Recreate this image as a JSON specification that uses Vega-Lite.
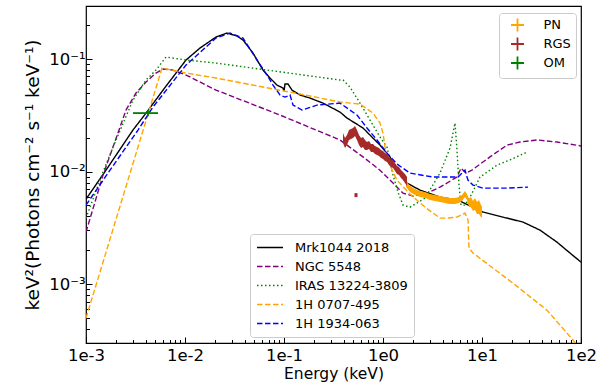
{
  "$schema": "https://vega.github.io/schema/vega-lite/v6.json",
  "width": 495,
  "height": 337,
  "autosize": {"type": "none"},
  "padding": {"left": 86, "top": 6, "right": 30, "bottom": 46},
  "background": "white",
  "config": {
    "font": "DejaVu Sans",
    "view": {"stroke": "black", "strokeWidth": 1.2},
    "axis": {"domain": false, "grid": false, "tickColor": "black", "tickWidth": 1, "labelColor": "black", "titleColor": "black", "labelFont": "DejaVu Sans", "titleFont": "DejaVu Sans", "labelFontSize": 16.5, "titleFontSize": 15.5, "titleFontWeight": "normal", "labelOverlap": false, "labelFlush": false},
    "legend": {"labelFont": "DejaVu Sans", "labelFontSize": 13, "labelColor": "black"}
  },
  "datasets": {
    "models": [
      {"model": "Mrk1044 2018", "E": 0.001, "F": 0.00569},
      {"model": "Mrk1044 2018", "E": 0.001592, "F": 0.0103},
      {"model": "Mrk1044 2018", "E": 0.00298, "F": 0.0234},
      {"model": "Mrk1044 2018", "E": 0.00404, "F": 0.0331},
      {"model": "Mrk1044 2018", "E": 0.00643, "F": 0.0575},
      {"model": "Mrk1044 2018", "E": 0.01024, "F": 0.098},
      {"model": "Mrk1044 2018", "E": 0.01417, "F": 0.1252},
      {"model": "Mrk1044 2018", "E": 0.02056, "F": 0.1569},
      {"model": "Mrk1044 2018", "E": 0.02655, "F": 0.1702},
      {"model": "Mrk1044 2018", "E": 0.03352, "F": 0.1601},
      {"model": "Mrk1044 2018", "E": 0.03854, "F": 0.1475},
      {"model": "Mrk1044 2018", "E": 0.04862, "F": 0.1131},
      {"model": "Mrk1044 2018", "E": 0.06136, "F": 0.0798},
      {"model": "Mrk1044 2018", "E": 0.07221, "F": 0.0678},
      {"model": "Mrk1044 2018", "E": 0.08499, "F": 0.0587},
      {"model": "Mrk1044 2018", "E": 0.0977, "F": 0.0552},
      {"model": "Mrk1044 2018", "E": 0.1, "F": 0.0519},
      {"model": "Mrk1044 2018", "E": 0.1023, "F": 0.06},
      {"model": "Mrk1044 2018", "E": 0.1098, "F": 0.06},
      {"model": "Mrk1044 2018", "E": 0.1204, "F": 0.053},
      {"model": "Mrk1044 2018", "E": 0.1451, "F": 0.0479},
      {"model": "Mrk1044 2018", "E": 0.1831, "F": 0.045},
      {"model": "Mrk1044 2018", "E": 0.2477, "F": 0.0406},
      {"model": "Mrk1044 2018", "E": 0.3679, "F": 0.0338},
      {"model": "Mrk1044 2018", "E": 0.4329, "F": 0.0299},
      {"model": "Mrk1044 2018", "E": 0.6281, "F": 0.0244},
      {"model": "Mrk1044 2018", "E": 0.7391, "F": 0.0211},
      {"model": "Mrk1044 2018", "E": 0.9326, "F": 0.0172},
      {"model": "Mrk1044 2018", "E": 1.177, "F": 0.0135},
      {"model": "Mrk1044 2018", "E": 1.385, "F": 0.0103},
      {"model": "Mrk1044 2018", "E": 1.748, "F": 0.0079},
      {"model": "Mrk1044 2018", "E": 2.364, "F": 0.00685},
      {"model": "Mrk1044 2018", "E": 3.765, "F": 0.00593},
      {"model": "Mrk1044 2018", "E": 5.722, "F": 0.00558},
      {"model": "Mrk1044 2018", "E": 10.23, "F": 0.00437},
      {"model": "Mrk1044 2018", "E": 16.29, "F": 0.00394},
      {"model": "Mrk1044 2018", "E": 25.95, "F": 0.00356},
      {"model": "Mrk1044 2018", "E": 38.54, "F": 0.00302},
      {"model": "Mrk1044 2018", "E": 57.24, "F": 0.00236},
      {"model": "Mrk1044 2018", "E": 77.43, "F": 0.00189},
      {"model": "Mrk1044 2018", "E": 100, "F": 0.00157},

      {"model": "NGC 5548", "E": 0.001, "F": 0.0029},
      {"model": "NGC 5548", "E": 0.001485, "F": 0.00931},
      {"model": "NGC 5548", "E": 0.001874, "F": 0.0165},
      {"model": "NGC 5548", "E": 0.002535, "F": 0.0352},
      {"model": "NGC 5548", "E": 0.003199, "F": 0.0499},
      {"model": "NGC 5548", "E": 0.004037, "F": 0.0625},
      {"model": "NGC 5548", "E": 0.005093, "F": 0.0751},
      {"model": "NGC 5548", "E": 0.005995, "F": 0.0815},
      {"model": "NGC 5548", "E": 0.007565, "F": 0.0798},
      {"model": "NGC 5548", "E": 0.01024, "F": 0.0721},
      {"model": "NGC 5548", "E": 0.02056, "F": 0.053},
      {"model": "NGC 5548", "E": 0.0911, "F": 0.0318},
      {"model": "NGC 5548", "E": 0.3679, "F": 0.0191},
      {"model": "NGC 5548", "E": 0.6281, "F": 0.0135},
      {"model": "NGC 5548", "E": 0.9326, "F": 0.0103},
      {"model": "NGC 5548", "E": 1.262, "F": 0.0079},
      {"model": "NGC 5548", "E": 1.592, "F": 0.00644},
      {"model": "NGC 5548", "E": 2.009, "F": 0.00606},
      {"model": "NGC 5548", "E": 2.783, "F": 0.00644},
      {"model": "NGC 5548", "E": 3.765, "F": 0.00728},
      {"model": "NGC 5548", "E": 5.59, "F": 0.00894},
      {"model": "NGC 5548", "E": 6.137, "F": 0.0107},
      {"model": "NGC 5548", "E": 6.893, "F": 0.0097},
      {"model": "NGC 5548", "E": 7.9, "F": 0.0103},
      {"model": "NGC 5548", "E": 12.04, "F": 0.0135},
      {"model": "NGC 5548", "E": 17.88, "F": 0.0172},
      {"model": "NGC 5548", "E": 24.2, "F": 0.0183},
      {"model": "NGC 5548", "E": 35.94, "F": 0.0191},
      {"model": "NGC 5548", "E": 57.24, "F": 0.0183},
      {"model": "NGC 5548", "E": 100, "F": 0.0169},

      {"model": "IRAS 13224-3809", "E": 0.001, "F": 0.00386},
      {"model": "IRAS 13224-3809", "E": 0.001485, "F": 0.0099},
      {"model": "IRAS 13224-3809", "E": 0.001874, "F": 0.0165},
      {"model": "IRAS 13224-3809", "E": 0.002983, "F": 0.0432},
      {"model": "IRAS 13224-3809", "E": 0.004037, "F": 0.0651},
      {"model": "IRAS 13224-3809", "E": 0.005093, "F": 0.0798},
      {"model": "IRAS 13224-3809", "E": 0.006428, "F": 0.1042},
      {"model": "IRAS 13224-3809", "E": 0.01024, "F": 0.098},
      {"model": "IRAS 13224-3809", "E": 0.02056, "F": 0.0921},
      {"model": "IRAS 13224-3809", "E": 0.3679, "F": 0.0651},
      {"model": "IRAS 13224-3809", "E": 0.3945, "F": 0.0651},
      {"model": "IRAS 13224-3809", "E": 0.4642, "F": 0.0564},
      {"model": "IRAS 13224-3809", "E": 0.5857, "F": 0.0406},
      {"model": "IRAS 13224-3809", "E": 0.7391, "F": 0.0287},
      {"model": "IRAS 13224-3809", "E": 0.9326, "F": 0.0203},
      {"model": "IRAS 13224-3809", "E": 1.0975, "F": 0.0165},
      {"model": "IRAS 13224-3809", "E": 1.262, "F": 0.00931},
      {"model": "IRAS 13224-3809", "E": 1.418, "F": 0.00657},
      {"model": "IRAS 13224-3809", "E": 1.592, "F": 0.00504},
      {"model": "IRAS 13224-3809", "E": 1.874, "F": 0.00483},
      {"model": "IRAS 13224-3809", "E": 2.656, "F": 0.00581},
      {"model": "IRAS 13224-3809", "E": 3.765, "F": 0.0097},
      {"model": "IRAS 13224-3809", "E": 4.752, "F": 0.0162},
      {"model": "IRAS 13224-3809", "E": 5.337, "F": 0.027},
      {"model": "IRAS 13224-3809", "E": 5.59, "F": 0.0155},
      {"model": "IRAS 13224-3809", "E": 5.857, "F": 0.00759},
      {"model": "IRAS 13224-3809", "E": 6.137, "F": 0.00504},
      {"model": "IRAS 13224-3809", "E": 6.734, "F": 0.00504},
      {"model": "IRAS 13224-3809", "E": 7.565, "F": 0.00593},
      {"model": "IRAS 13224-3809", "E": 9.545, "F": 0.00894},
      {"model": "IRAS 13224-3809", "E": 14.17, "F": 0.0114},
      {"model": "IRAS 13224-3809", "E": 19.18, "F": 0.0127},
      {"model": "IRAS 13224-3809", "E": 28.48, "F": 0.0149},

      {"model": "1H 0707-495", "E": 0.001, "F": 0.000499},
      {"model": "1H 0707-495", "E": 0.005857, "F": 0.0832},
      {"model": "1H 0707-495", "E": 0.01024, "F": 0.0751},
      {"model": "1H 0707-495", "E": 0.02056, "F": 0.0678},
      {"model": "1H 0707-495", "E": 0.1451, "F": 0.0489},
      {"model": "1H 0707-495", "E": 0.3679, "F": 0.0415},
      {"model": "1H 0707-495", "E": 0.5857, "F": 0.0398},
      {"model": "1H 0707-495", "E": 0.7925, "F": 0.0331},
      {"model": "1H 0707-495", "E": 0.9326, "F": 0.027},
      {"model": "1H 0707-495", "E": 1.0, "F": 0.022},
      {"model": "1H 0707-495", "E": 1.0476, "F": 0.0165},
      {"model": "1H 0707-495", "E": 1.1233, "F": 0.0127},
      {"model": "1H 0707-495", "E": 1.262, "F": 0.0099},
      {"model": "1H 0707-495", "E": 1.385, "F": 0.0084},
      {"model": "1H 0707-495", "E": 1.874, "F": 0.00631},
      {"model": "1H 0707-495", "E": 2.656, "F": 0.00483},
      {"model": "1H 0707-495", "E": 3.765, "F": 0.00386},
      {"model": "1H 0707-495", "E": 4.43, "F": 0.00386},
      {"model": "1H 0707-495", "E": 5.59, "F": 0.00394},
      {"model": "1H 0707-495", "E": 6.734, "F": 0.00428},
      {"model": "1H 0707-495", "E": 7.221, "F": 0.00371},
      {"model": "1H 0707-495", "E": 7.391, "F": 0.00209},
      {"model": "1H 0707-495", "E": 8.111, "F": 0.00189},
      {"model": "1H 0707-495", "E": 20.56, "F": 0.00102},
      {"model": "1H 0707-495", "E": 45.36, "F": 0.000587},
      {"model": "1H 0707-495", "E": 100, "F": 0.000264},

      {"model": "1H 1934-063", "E": 0.001, "F": 0.00504},
      {"model": "1H 1934-063", "E": 0.001748, "F": 0.0103},
      {"model": "1H 1934-063", "E": 0.003352, "F": 0.0234},
      {"model": "1H 1934-063", "E": 0.00475, "F": 0.0375},
      {"model": "1H 1934-063", "E": 0.01024, "F": 0.0884},
      {"model": "1H 1934-063", "E": 0.02056, "F": 0.1537},
      {"model": "1H 1934-063", "E": 0.02847, "F": 0.1702},
      {"model": "1H 1934-063", "E": 0.03854, "F": 0.1537},
      {"model": "1H 1934-063", "E": 0.05337, "F": 0.098},
      {"model": "1H 1934-063", "E": 0.06734, "F": 0.0721},
      {"model": "1H 1934-063", "E": 0.07743, "F": 0.0587},
      {"model": "1H 1934-063", "E": 0.09112, "F": 0.0479},
      {"model": "1H 1934-063", "E": 0.1023, "F": 0.0459},
      {"model": "1H 1934-063", "E": 0.115, "F": 0.0479},
      {"model": "1H 1934-063", "E": 0.1233, "F": 0.039},
      {"model": "1H 1934-063", "E": 0.152, "F": 0.0352},
      {"model": "1H 1934-063", "E": 0.2154, "F": 0.039},
      {"model": "1H 1934-063", "E": 0.3679, "F": 0.0406},
      {"model": "1H 1934-063", "E": 0.5462, "F": 0.0318},
      {"model": "1H 1934-063", "E": 0.6893, "F": 0.0244},
      {"model": "1H 1934-063", "E": 0.8697, "F": 0.0191},
      {"model": "1H 1934-063", "E": 1.0975, "F": 0.0146},
      {"model": "1H 1934-063", "E": 1.385, "F": 0.01166},
      {"model": "1H 1934-063", "E": 1.874, "F": 0.0097},
      {"model": "1H 1934-063", "E": 3.2, "F": 0.00894},
      {"model": "1H 1934-063", "E": 5.722, "F": 0.00894},
      {"model": "1H 1934-063", "E": 6.734, "F": 0.0103},
      {"model": "1H 1934-063", "E": 7.221, "F": 0.0084},
      {"model": "1H 1934-063", "E": 8.111, "F": 0.00759},
      {"model": "1H 1934-063", "E": 10.23, "F": 0.00713},
      {"model": "1H 1934-063", "E": 17.88, "F": 0.00713},
      {"model": "1H 1934-063", "E": 29.14, "F": 0.00728}
    ],
    "pn": [
      {"E": 1.708, "lo": 0.007282, "hi": 0.008233},
      {"E": 1.874, "lo": 0.006573, "hi": 0.007432},
      {"E": 2.105, "lo": 0.006182, "hi": 0.00699},
      {"E": 2.364, "lo": 0.005934, "hi": 0.006709},
      {"E": 2.656, "lo": 0.005814, "hi": 0.006573},
      {"E": 2.984, "lo": 0.005581, "hi": 0.00631},
      {"E": 3.352, "lo": 0.005468, "hi": 0.006182},
      {"E": 3.765, "lo": 0.005357, "hi": 0.006057},
      {"E": 4.229, "lo": 0.005248, "hi": 0.005934},
      {"E": 4.752, "lo": 0.005142, "hi": 0.005814},
      {"E": 5.337, "lo": 0.005142, "hi": 0.005814},
      {"E": 5.857, "lo": 0.005248, "hi": 0.005934},
      {"E": 6.281, "lo": 0.005468, "hi": 0.006182},
      {"E": 6.734, "lo": 0.005934, "hi": 0.006709},
      {"E": 7.055, "lo": 0.005581, "hi": 0.00631},
      {"E": 7.391, "lo": 0.004836, "hi": 0.005696},
      {"E": 7.743, "lo": 0.004836, "hi": 0.005934},
      {"E": 8.111, "lo": 0.004456, "hi": 0.005468},
      {"E": 8.498, "lo": 0.004548, "hi": 0.005814},
      {"E": 8.902, "lo": 0.00419, "hi": 0.005357},
      {"E": 9.326, "lo": 0.00419, "hi": 0.005581},
      {"E": 9.77, "lo": 0.00394, "hi": 0.005038},
      {"E": 10.0, "lo": 0.00394, "hi": 0.004836}
    ],
    "rgs": [
      {"E": 0.3945, "lo": 0.01792, "hi": 0.02199},
      {"E": 0.4132, "lo": 0.01618, "hi": 0.01985},
      {"E": 0.4329, "lo": 0.0172, "hi": 0.02111},
      {"E": 0.4534, "lo": 0.01905, "hi": 0.02338},
      {"E": 0.475, "lo": 0.01945, "hi": 0.02386},
      {"E": 0.4977, "lo": 0.01985, "hi": 0.02436},
      {"E": 0.5214, "lo": 0.02068, "hi": 0.02537},
      {"E": 0.5462, "lo": 0.01905, "hi": 0.02338},
      {"E": 0.5722, "lo": 0.0172, "hi": 0.02111},
      {"E": 0.5995, "lo": 0.01618, "hi": 0.01985},
      {"E": 0.6281, "lo": 0.01651, "hi": 0.02026},
      {"E": 0.6579, "lo": 0.01553, "hi": 0.01905},
      {"E": 0.6893, "lo": 0.01553, "hi": 0.01829},
      {"E": 0.7221, "lo": 0.01585, "hi": 0.01867},
      {"E": 0.7565, "lo": 0.0149, "hi": 0.01756},
      {"E": 0.7925, "lo": 0.0149, "hi": 0.01756},
      {"E": 0.8302, "lo": 0.0143, "hi": 0.01685},
      {"E": 0.8697, "lo": 0.01401, "hi": 0.01651},
      {"E": 0.9112, "lo": 0.01373, "hi": 0.01618},
      {"E": 0.9545, "lo": 0.01318, "hi": 0.01553},
      {"E": 1.0, "lo": 0.01292, "hi": 0.01521},
      {"E": 1.0476, "lo": 0.0124, "hi": 0.0146},
      {"E": 1.0975, "lo": 0.01215, "hi": 0.0143},
      {"E": 1.1498, "lo": 0.01143, "hi": 0.01345},
      {"E": 1.2045, "lo": 0.01096, "hi": 0.01292},
      {"E": 1.262, "lo": 0.01074, "hi": 0.01265},
      {"E": 1.322, "lo": 0.0101, "hi": 0.0119},
      {"E": 1.385, "lo": 0.0095, "hi": 0.0112},
      {"E": 1.451, "lo": 0.00931, "hi": 0.01096},
      {"E": 1.52, "lo": 0.008755, "hi": 0.01031},
      {"E": 1.592, "lo": 0.008403, "hi": 0.0099},
      {"E": 1.668, "lo": 0.007902, "hi": 0.0095},
      {"E": 1.748, "lo": 0.007432, "hi": 0.00894}
    ],
    "rgsdot": [
      {"E": 0.5337, "lo": 0.005934, "hi": 0.00644}
    ],
    "om": [
      {"inst": "OM", "E": 0.00423, "Elo": 0.00298, "Ehi": 0.00534, "F": 0.0331, "Flo": 0.0311, "Fhi": 0.0352}
    ]
  },
  "resolve": {"axis": {"x": "independent", "y": "independent"}},
  "layer": [
    {
      "data": {"name": "models"},
      "mark": {"type": "line", "strokeWidth": 1.4, "clip": true},
      "encoding": {
        "x": {"field": "E", "type": "quantitative", "scale": {"type": "log", "domain": [0.001, 100], "nice": false},
              "axis": {"orient": "bottom", "values": [0.001, 0.01, 0.1, 1, 10, 100], "tickSize": -6, "labelPadding": 10, "title": "Energy (keV)", "titlePadding": 3,
                       "labelExpr": "datum.value < 0.005 ? '1e-3' : datum.value < 0.05 ? '1e-2' : datum.value < 0.5 ? '1e-1' : datum.value < 5 ? '1e0' : datum.value < 50 ? '1e1' : '1e2'"}},
        "y": {"field": "F", "type": "quantitative", "scale": {"type": "log", "domain": [0.0003, 0.296], "nice": false},
              "axis": {"orient": "left", "values": [0.001, 0.01, 0.1], "tickSize": -6, "labelPadding": 7, "title": "keV²(Photons cm⁻² s⁻¹ keV⁻¹)", "titleFontSize": 18.5, "titlePadding": 6,
                       "labelExpr": "datum.value < 0.005 ? '10⁻³' : datum.value < 0.05 ? '10⁻²' : '10⁻¹'"}},
        "color": {"field": "model", "type": "nominal",
                  "scale": {"domain": ["Mrk1044 2018", "NGC 5548", "IRAS 13224-3809", "1H 0707-495", "1H 1934-063"], "range": ["#000000", "#800080", "#008000", "#ffa500", "#0000ff"]},
                  "legend": {"orient": "none", "legendX": 164, "legendY": 228, "title": null, "symbolType": "M-1,0L3,0", "symbolSize": 169, "symbolStrokeWidth": 1.5, "labelFontSize": 13, "labelOffset": 24, "rowPadding": 4, "padding": 6, "strokeColor": "#cccccc", "fillColor": "white", "cornerRadius": 3}},
        "strokeDash": {"field": "model", "type": "nominal",
                  "scale": {"domain": ["Mrk1044 2018", "NGC 5548", "IRAS 13224-3809", "1H 0707-495", "1H 1934-063"], "range": [[1, 0], [5.5, 2.5], [1.5, 2.5], [5.5, 2.5], [5.5, 2.5]]},
                  "legend": {"orient": "none", "legendX": 164, "legendY": 228, "title": null, "symbolType": "M-1,0L3,0", "symbolSize": 169, "symbolStrokeWidth": 1.5, "labelFontSize": 13, "labelOffset": 24, "rowPadding": 4, "padding": 6, "strokeColor": "#cccccc", "fillColor": "white", "cornerRadius": 3}}
      }
    },
    {
      "data": {"name": "pn"},
      "mark": {"type": "area", "color": "#ffa500", "clip": true},
      "encoding": {
        "x": {"field": "E", "type": "quantitative", "axis": {"orient": "bottom", "values": [0.002,0.003,0.004,0.005,0.006,0.007,0.008,0.009,0.02,0.03,0.04,0.05,0.06,0.07,0.08,0.09,0.2,0.3,0.4,0.5,0.6,0.7,0.8,0.9,2,3,4,5,6,7,8,9,20,30,40,50,60,70,80,90], "labels": false, "tickSize": -3.5, "title": null}},
        "y": {"field": "lo", "type": "quantitative", "axis": {"orient": "left", "values": [0.0004,0.0005,0.0006,0.0007,0.0008,0.0009,0.002,0.003,0.004,0.005,0.006,0.007,0.008,0.009,0.02,0.03,0.04,0.05,0.06,0.07,0.08,0.09,0.2], "labels": false, "tickSize": -3.5, "title": null}},
        "y2": {"field": "hi"}
      }
    },
    {
      "data": {"name": "rgs"},
      "mark": {"type": "area", "color": "#a52a2a", "clip": true},
      "encoding": {
        "x": {"field": "E", "type": "quantitative", "axis": null},
        "y": {"field": "lo", "type": "quantitative", "axis": null},
        "y2": {"field": "hi"}
      }
    },
    {
      "data": {"name": "rgsdot"},
      "mark": {"type": "rule", "color": "#a52a2a", "strokeWidth": 3},
      "encoding": {
        "x": {"field": "E", "type": "quantitative", "axis": null},
        "y": {"field": "lo", "type": "quantitative", "axis": null},
        "y2": {"field": "hi"}
      }
    },
    {
      "data": {"name": "om"},
      "mark": {"type": "rule", "strokeWidth": 1.8},
      "encoding": {
        "x": {"field": "Elo", "type": "quantitative", "axis": null},
        "x2": {"field": "Ehi"},
        "y": {"field": "F", "type": "quantitative", "axis": null},
        "stroke": {"field": "inst", "type": "nominal",
                   "scale": {"domain": ["PN", "RGS", "OM"], "range": ["#ffa500", "#a52a2a", "#008000"]},
                   "legend": {"orient": "none", "legendX": 413, "legendY": 7, "title": null, "symbolType": "M0,0L2,0M1,-1L1,1", "symbolSize": 169, "symbolStrokeWidth": 1.8, "labelFontSize": 13, "labelOffset": 25, "rowPadding": -2, "padding": 4.5, "strokeColor": "#cccccc", "fillColor": "white", "cornerRadius": 3}}
      }
    },
    {
      "data": {"name": "om"},
      "mark": {"type": "rule", "strokeWidth": 1.8, "color": "#008000"},
      "encoding": {
        "x": {"field": "E", "type": "quantitative", "axis": null},
        "y": {"field": "Flo", "type": "quantitative", "axis": null},
        "y2": {"field": "Fhi"}
      }
    }
  ]
}
